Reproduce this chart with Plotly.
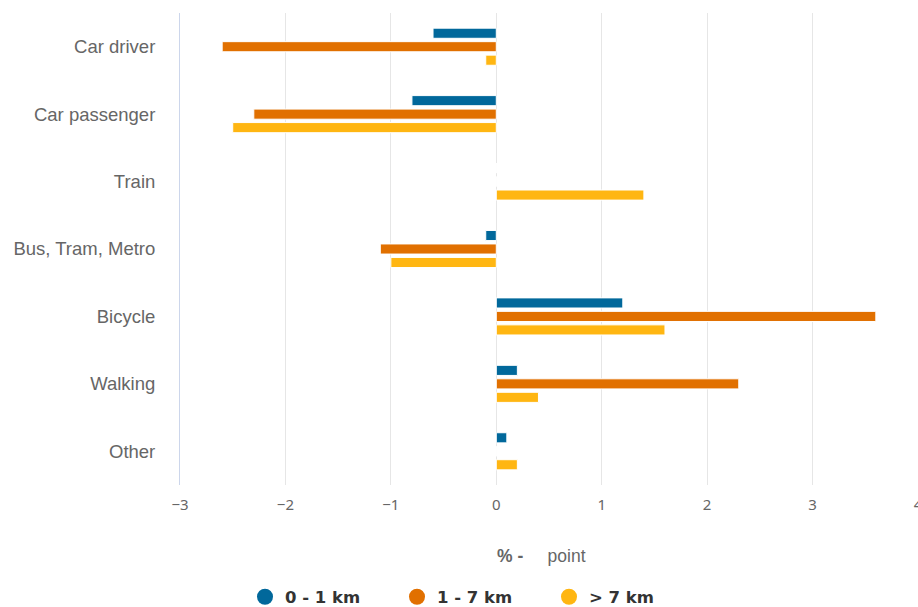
import plotly.graph_objects as go

categories = ["Car driver", "Car passenger", "Train", "Bus, Tram, Metro",
              "Bicycle", "Walking", "Other"]
series_names = ["0 - 1 km", "1 - 7 km", "> 7 km"]
short_trips = [-0.6, -0.8, 0.0, -0.1, 1.2, 0.2, 0.1]
medium_trips = [-2.6, -2.3, 0.0, -1.1, 3.6, 2.3, 0.0]
long_trips = [-0.1, -2.5, 1.4, -1.0, 1.6, 0.4, 0.2]
colors = ["#01689b", "#e17000", "#ffb612"]
x_ticks = [-3, -2, -1, 0, 1, 2, 3, 4]

NBSP = "\u00a0"

fig = go.Figure()
for name, vals, col in zip(series_names, [short_trips, medium_trips, long_trips], colors):
    fig.add_trace(go.Bar(
        y=categories, x=vals, orientation="h", name=name,
        marker=dict(color=col, line=dict(color="white", width=1)),
        showlegend=False, hoverinfo="x+y",
    ))
    # round legend markers
    fig.add_trace(go.Scatter(
        x=[None], y=[None], mode="markers", name=f"<b>{name}</b>",
        marker=dict(color=col, size=16, symbol="circle"),
        showlegend=True,
    ))

# x-axis caption, placed as an annotation below the tick labels
fig.add_annotation(
    text="<b>% -</b>" + NBSP * 5 + "point",
    xref="paper", yref="paper", x=(541 - 180) / 738, y=-0.15,
    xanchor="center", yanchor="middle", showarrow=False,
    font=dict(size=17.5, color="#666666", family="Liberation Sans, Arial, sans-serif"),
)

fig.update_layout(
    width=918, height=607,
    margin=dict(l=180, r=0, t=13, b=122),
    paper_bgcolor="white", plot_bgcolor="white",
    barmode="group", bargap=0.4, bargroupgap=0.25,
    font=dict(family="Liberation Sans, Arial, sans-serif", color="#666666"),
    xaxis=dict(
        range=[-3, 4], tickvals=x_ticks, automargin=False,
        showgrid=True, gridcolor="#e6e6e6", gridwidth=1,
        zeroline=False, showline=False,
        tickfont=dict(size=15, color="#666666", family="Noto Sans, sans-serif"),
        ticklabelstandoff=9, ticklabeloverflow="allow",
    ),
    yaxis=dict(
        autorange="reversed", showgrid=False, zeroline=False, automargin=False,
        showline=True, linecolor="#ccd6eb", linewidth=1,
        tickfont=dict(size=18.5, color="#666666"),
        ticklabelstandoff=20,
    ),
    legend=dict(
        orientation="h", xref="container", x=245 / 918, xanchor="left",
        yref="container", y=10 / 607, yanchor="middle",
        font=dict(size=16.5, color="#333333", family="DejaVu Sans, sans-serif"),
        itemsizing="trace", entrywidth=107, entrywidthmode="pixels",
        traceorder="normal",
    ),
)

fig.write_html("out.html")
